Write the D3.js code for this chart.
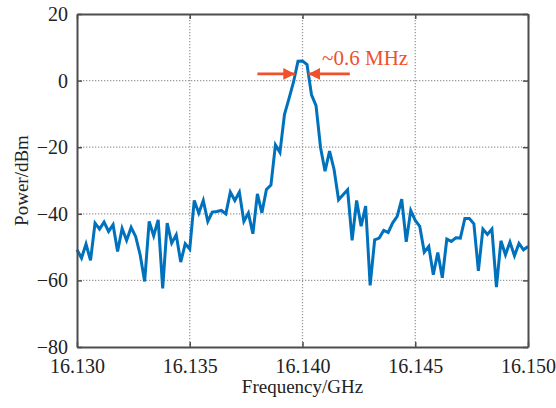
<!DOCTYPE html>
<html><head><meta charset="utf-8">
<script src="https://cdn.jsdelivr.net/npm/d3@7"></script>
<style>
html,body{margin:0;padding:0;background:#fff;}
text{font-family:"Liberation Serif","Times New Roman",serif;}
</style></head>
<body><svg id="chart" width="556" height="408"></svg>
<script>
const frequencies = [16.1300,16.1302,16.1304,16.1306,16.1308,16.1310,16.1312,16.1314,16.1316,16.1318,
16.1320,16.1322,16.1324,16.1326,16.1328,16.1330,16.1332,16.1334,16.1336,16.1338,
16.1340,16.1342,16.1344,16.1346,16.1348,16.1350,16.1352,16.1354,16.1356,16.1358,
16.1360,16.1362,16.1364,16.1366,16.1368,16.1370,16.1372,16.1374,16.1376,16.1378,
16.1380,16.1382,16.1384,16.1386,16.1388,16.1390,16.1392,16.1394,16.1396,16.1398,
16.1400,16.1402,16.1404,16.1406,16.1408,16.1410,16.1412,16.1414,16.1416,16.1418,
16.1420,16.1422,16.1424,16.1426,16.1428,16.1430,16.1432,16.1434,16.1436,16.1438,
16.1440,16.1442,16.1444,16.1446,16.1448,16.1450,16.1452,16.1454,16.1456,16.1458,
16.1460,16.1462,16.1464,16.1466,16.1468,16.1470,16.1472,16.1474,16.1476,16.1478,
16.1480,16.1482,16.1484,16.1486,16.1488,16.1490,16.1492,16.1494,16.1496,16.1498,16.1500];
const power = [-50.8,-53.3,-49.1,-54.0,-42.8,-44.6,-42.5,-45.3,-43.3,-51.3,
-44.4,-48.0,-44.1,-46.8,-52.3,-60.3,-42.3,-46.6,-41.8,-62.4,
-42.8,-48.8,-46.3,-54.5,-49.0,-50.6,-36.0,-39.8,-36.0,-42.3,
-39.5,-39.3,-39.0,-40.0,-33.5,-36.0,-33.5,-42.3,-39.8,-46.0,
-34.0,-39.7,-32.7,-31.4,-19.3,-21.6,-10.2,-5.4,-0.5,5.8,
5.9,4.8,-4.3,-7.5,-20.1,-27.2,-21.2,-26.7,-35.8,-34.3,
-32.8,-48.0,-36.0,-43.7,-37.7,-61.5,-47.8,-47.3,-45.0,-45.6,
-42.7,-40.8,-35.6,-48.4,-39.0,-42.0,-43.8,-51.5,-49.8,-58.3,
-51.6,-59.2,-47.6,-48.3,-47.2,-47.3,-41.4,-41.4,-43.0,-57.1,
-44.6,-46.2,-44.6,-62.0,-48.1,-52.3,-48.5,-52.6,-48.9,-50.8,-49.8];
const xTicks = [16.130,16.135,16.140,16.145,16.150];
const yTicks = [20,0,-20,-40,-60,-80];
const xLabel = "Frequency/GHz";
const yLabel = "Power/dBm";
const annotationText = "~0.6 MHz";
const arrowLevel = 2;
const leftArrow = [16.1380, 16.13967];
const rightArrow = [16.1421, 16.14026];
const annotationPos = [16.14087, 4.6];

const W = 556, H = 408;
const m = {left:77, right:28, top:14, bottom:61};
const svg = d3.select("#chart");
const x = d3.scaleLinear().domain([16.130,16.150]).range([m.left, W-m.right]);
const y = d3.scaleLinear().domain([-80,20]).range([H-m.bottom, m.top]);
const axisColor = "#4d4d4d";
const gridColor = "#9a9a9a";
const lineColor = "#0072BD";
const annColor = "#F0502A";
const serif = '"Liberation Serif","Times New Roman",serif';

// grid
const grid = svg.append("g");
grid.selectAll(".gx").data(xTicks.slice(1,-1)).join("line")
  .attr("x1", d=>x(d)).attr("x2", d=>x(d)).attr("y1", y(20)).attr("y2", y(-80))
  .attr("stroke", gridColor).attr("stroke-width",1.3).attr("stroke-dasharray","1.3,1.7");
grid.selectAll(".gy").data(yTicks.slice(1,-1)).join("line")
  .attr("y1", d=>y(d)).attr("y2", d=>y(d)).attr("x1", x(16.130)).attr("x2", x(16.150))
  .attr("stroke", gridColor).attr("stroke-width",1.3).attr("stroke-dasharray","1.3,1.7");

// data line
const line = d3.line().x((d,i)=>x(frequencies[i])).y(d=>y(d));
svg.append("path").datum(power).attr("d", line).attr("fill","none")
  .attr("stroke", lineColor).attr("stroke-width",3).attr("stroke-linejoin","miter").attr("stroke-miterlimit",4);

// axes
const tickLen = 5;
const gB = svg.append("g").attr("transform",`translate(0,${y(-80)})`)
  .call(d3.axisBottom(x).tickValues(xTicks).tickFormat(d3.format(".3f")).tickSizeInner(-tickLen).tickSizeOuter(0).tickPadding(12));
const gT = svg.append("g").attr("transform",`translate(0,${y(20)})`)
  .call(d3.axisTop(x).tickValues(xTicks).tickFormat("").tickSizeInner(-tickLen).tickSizeOuter(0));
const gL = svg.append("g").attr("transform",`translate(${x(16.130)},0)`)
  .call(d3.axisLeft(y).tickValues(yTicks).tickFormat(d=>d<0?"\u2212"+Math.abs(d):d).tickSizeInner(-tickLen).tickSizeOuter(0).tickPadding(9));
const gR = svg.append("g").attr("transform",`translate(${x(16.150)},0)`)
  .call(d3.axisRight(y).tickValues(yTicks).tickFormat("").tickSizeInner(-tickLen).tickSizeOuter(0));
[gB,gT,gL,gR].forEach(g=>{
  g.attr("font-family", serif);
  g.select(".domain").attr("stroke", axisColor).attr("stroke-width",2);
  g.selectAll(".tick line").attr("stroke", axisColor).attr("stroke-width",1.5);
  g.selectAll("text").attr("fill","#222").style("font-size","20px").style("font-family", serif);
});

// axis labels
svg.append("text").attr("x", (x(16.130)+x(16.150))/2).attr("y", 393)
  .attr("text-anchor","middle").attr("fill","#222").style("font-size","19px").text(xLabel);
svg.append("text").attr("transform",`translate(28,${(y(20)+y(-80))/2}) rotate(-90)`)
  .attr("text-anchor","middle").attr("fill","#222").style("font-size","19px").text(yLabel);

// annotation arrows
const defs = svg.append("defs");
defs.append("marker").attr("id","ah").attr("viewBox","0 0 10 10").attr("refX",10).attr("refY",5)
  .attr("markerWidth",4.2).attr("markerHeight",4.2).attr("markerUnits","strokeWidth").attr("orient","auto")
  .append("path").attr("d","M0,0 L10,5 L0,10 Z").attr("fill",annColor);
[leftArrow, rightArrow].forEach(a=>{
  svg.append("line").attr("x1", x(a[0])).attr("x2", x(a[1])).attr("y1", y(arrowLevel)).attr("y2", y(arrowLevel))
    .attr("stroke", annColor).attr("stroke-width",2.8).attr("marker-end","url(#ah)");
});
svg.append("text").attr("x", x(annotationPos[0])).attr("y", y(annotationPos[1]))
  .attr("fill", annColor).style("font-size","21px").text(annotationText);
</script></body></html>
